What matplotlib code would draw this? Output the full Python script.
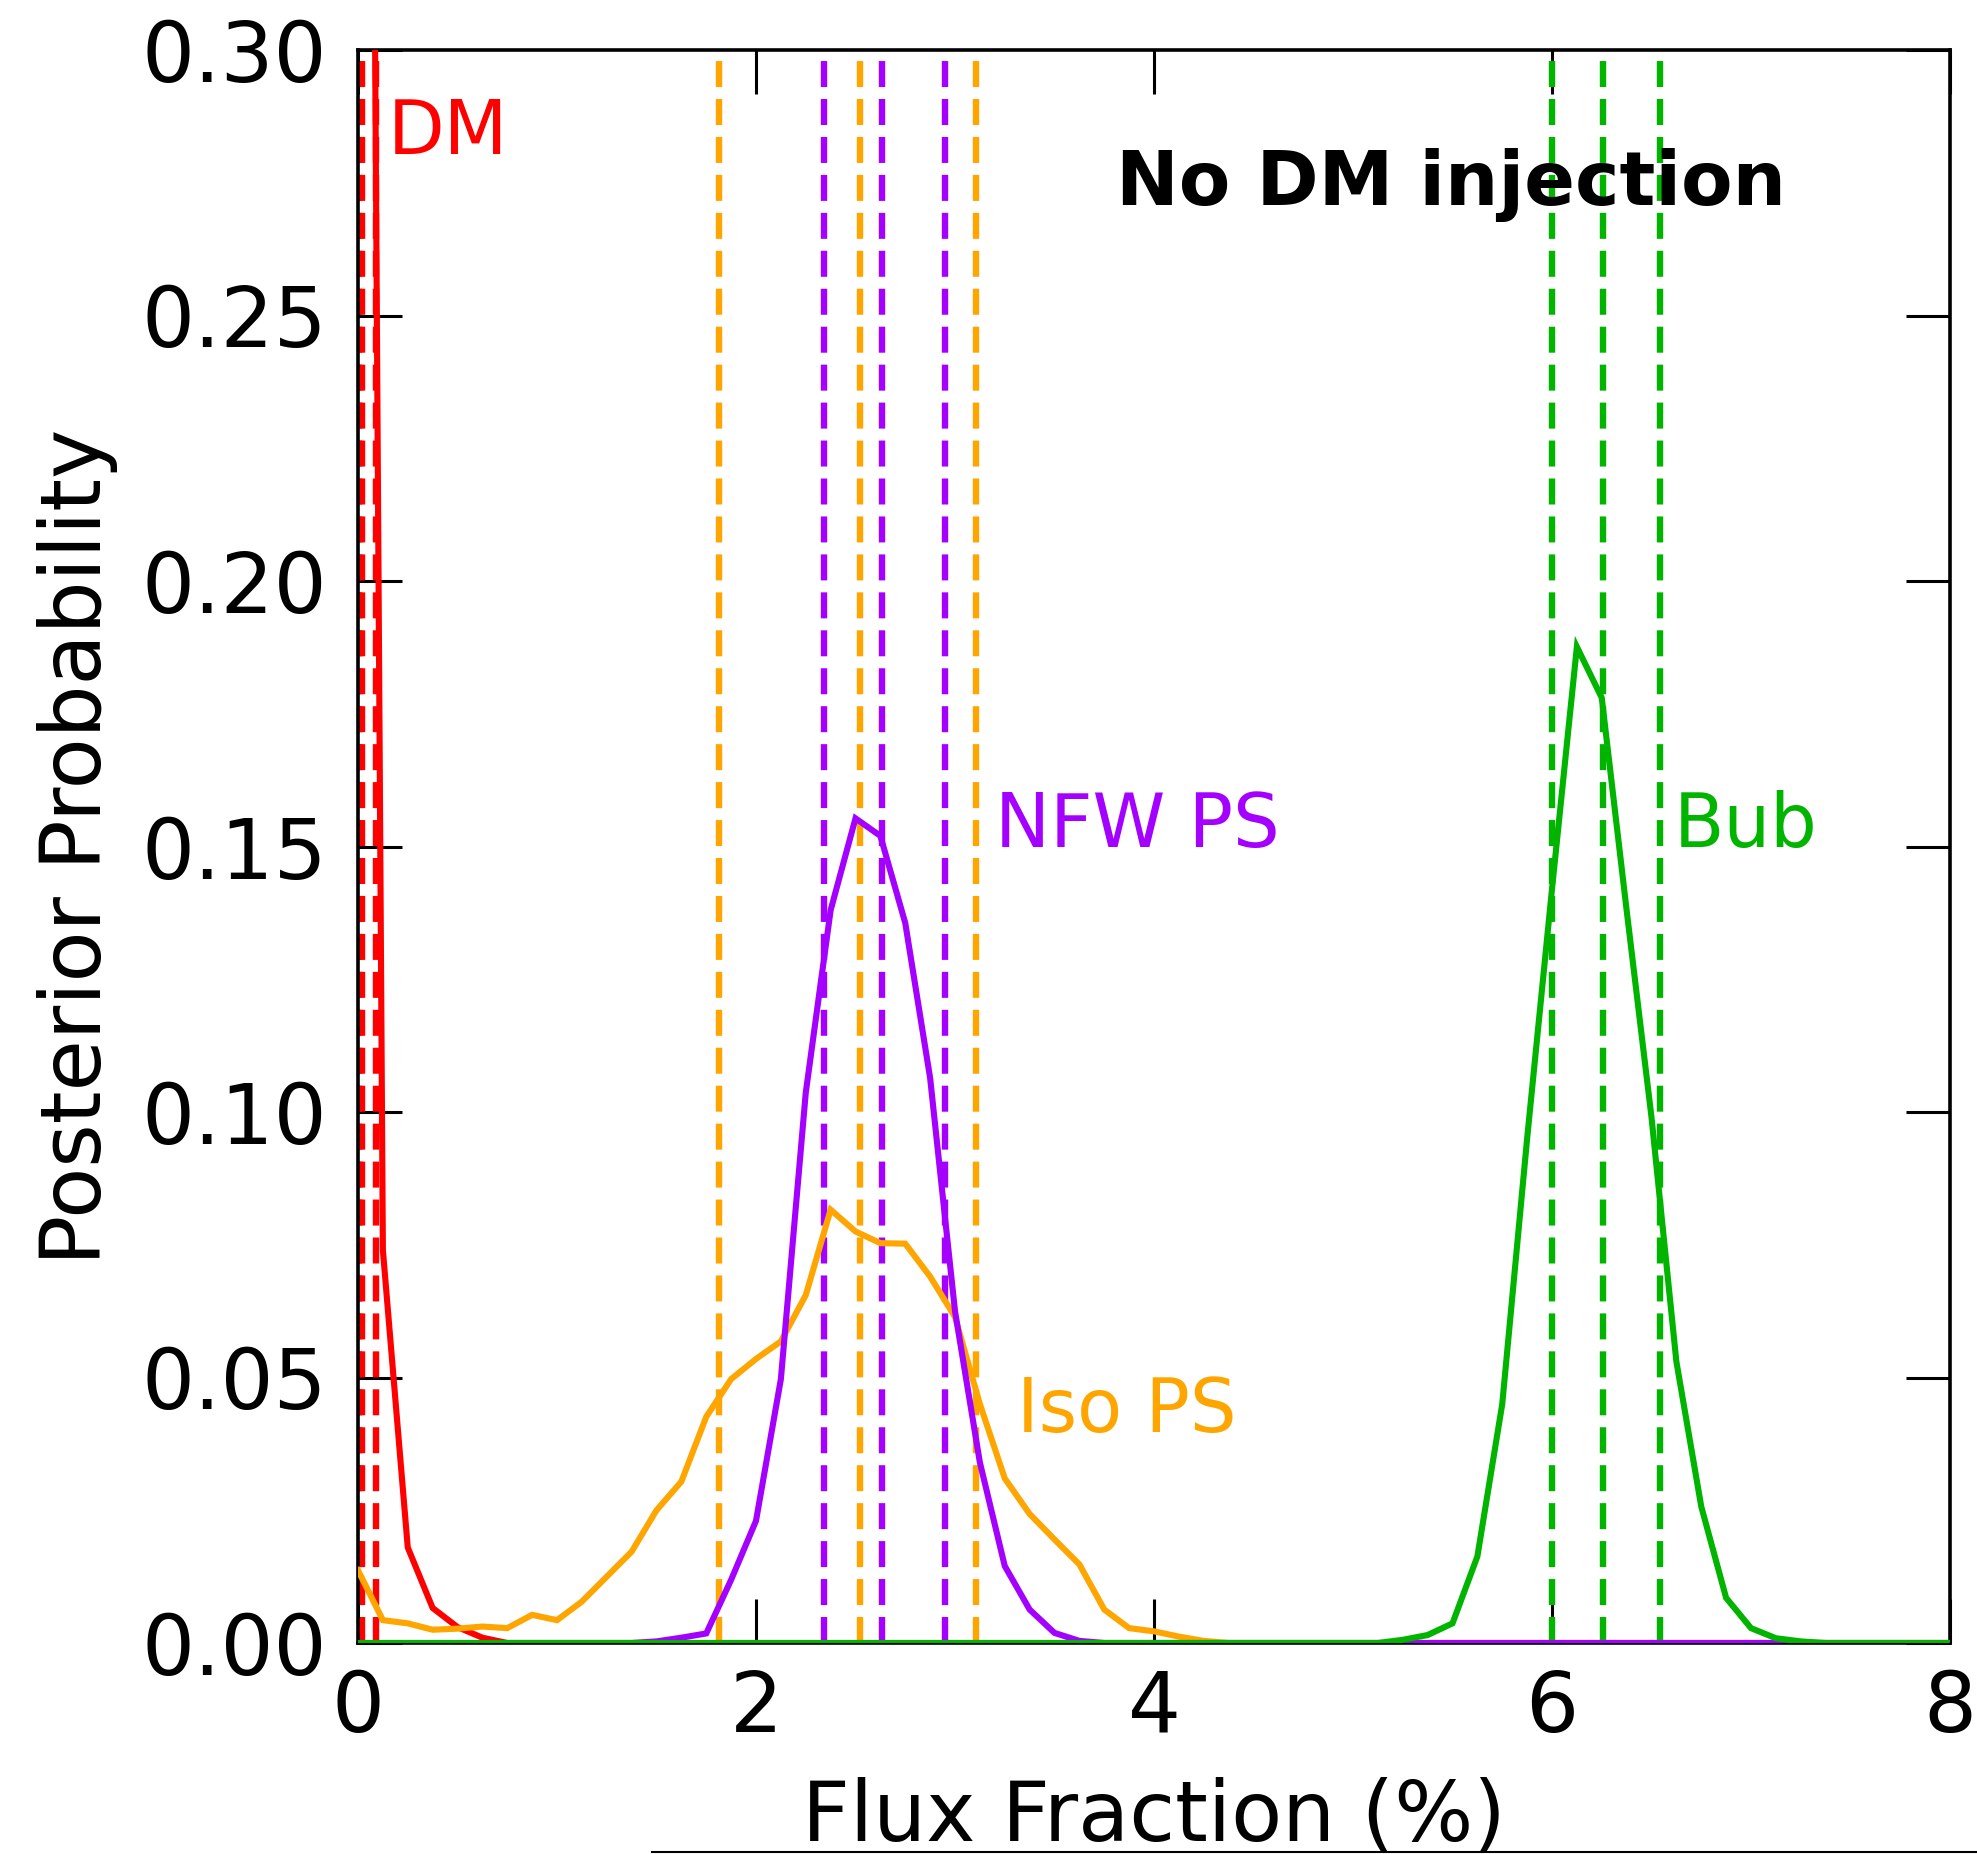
import matplotlib
matplotlib.use("Agg")
import matplotlib.pyplot as plt
from matplotlib.lines import Line2D

# ---------------- data ----------------
dm_x = [0.0, 0.125, 0.25, 0.375, 0.5, 0.625, 0.75, 8.0]
dm_y = [0.80, 0.074, 0.018, 0.0066, 0.003, 0.001, 0.0, 0.0]

iso_x = [0.0, 0.125, 0.25, 0.375, 0.5, 0.625, 0.75, 0.875, 1.0, 1.125, 1.25,
         1.375, 1.5, 1.625, 1.75, 1.875, 2.0, 2.125, 2.25, 2.375, 2.5, 2.625,
         2.75, 2.875, 3.0, 3.125, 3.25, 3.375, 3.5, 3.625, 3.75, 3.875, 4.0,
         4.125, 4.25, 4.375, 8.0]
iso_y = [0.0137, 0.0043, 0.0037, 0.0025, 0.0027, 0.0031, 0.0028, 0.0053,
         0.0043, 0.0078, 0.0125, 0.0172, 0.025, 0.0304, 0.0426, 0.0497,
         0.0535, 0.0568, 0.0655, 0.0816, 0.0775, 0.0753, 0.0752, 0.069,
         0.0614, 0.045, 0.031, 0.0243, 0.0195, 0.0148, 0.0063, 0.0028,
         0.0022, 0.0012, 0.0004, 0.0, 0.0]

nfw_x = [0.0, 1.375, 1.5, 1.625, 1.75, 1.875, 2.0, 2.125, 2.25, 2.375, 2.5,
         2.625, 2.75, 2.875, 3.0, 3.125, 3.25, 3.375, 3.5, 3.625, 3.75, 8.0]
nfw_y = [0.0, 0.0, 0.0003, 0.001, 0.0018, 0.0119, 0.023, 0.0497, 0.1036,
         0.138, 0.1553, 0.152, 0.1356, 0.1064, 0.0625, 0.034, 0.0145,
         0.0063, 0.0019, 0.0004, 0.0, 0.0]

bub_x = [0.0, 5.125, 5.25, 5.375, 5.5, 5.625, 5.75, 5.875, 6.0, 6.125, 6.25,
         6.375, 6.5, 6.625, 6.75, 6.875, 7.0, 7.125, 7.25, 7.375, 8.0]
bub_y = [0.0, 0.0, 0.0006, 0.0015, 0.0037, 0.0163, 0.045, 0.095, 0.142,
         0.1876, 0.178, 0.138, 0.099, 0.053, 0.0257, 0.0085, 0.0028,
         0.0009, 0.0003, 0.0, 0.0]

# 16 / 50 / 84 percentile markers
dm_q = [0.004, 0.018, 0.09]
iso_q = [1.813, 2.525, 3.106]
nfw_q = [2.34, 2.635, 2.952]
bub_q = [5.998, 6.255, 6.543]

labels = ["DM", "Iso PS", "NFW PS", "Bub"]
label_pos = [(0.15, 0.2805), (3.31, 0.0397), (3.20, 0.150), (6.61, 0.150)]
title_text = "No DM injection"
title_pos = (3.81, 0.2708)

x_ticks = [0, 2, 4, 6, 8]
y_ticks = [0.00, 0.05, 0.10, 0.15, 0.20, 0.25, 0.30]

RED = "#ff0000"
ORANGE = "#ffa500"
PURPLE = "#a300ff"
GREEN = "#00b400"

# ---------------- figure ----------------
fig = plt.figure(figsize=(19.77, 18.54), dpi=100)
ax = fig.add_axes([358 / 1977, (1854 - 1643) / 1854, 1592 / 1977, 1593 / 1854])

LW = 4.4
DLW = 4.6
DASH = (4.07, 1.87)

series = [
    (dm_x, dm_y, dm_q, RED),
    (iso_x, iso_y, iso_q, ORANGE),
    (nfw_x, nfw_y, nfw_q, PURPLE),
    (bub_x, bub_y, bub_q, GREEN),
]
for xs, ys, qs, c in series:
    ax.plot(xs, ys, color=c, lw=LW, solid_joinstyle="miter", zorder=3)
    for q in qs:
        ax.axvline(q, color=c, lw=DLW, linestyle=(0, DASH), zorder=2)

label_colors = [RED, ORANGE, PURPLE, GREEN]
for (tx, ty), s, c in zip(label_pos, labels, label_colors):
    ax.text(tx, ty, s, color=c, fontsize=53, ha="left", va="baseline")
ax.text(title_pos[0], title_pos[1], title_text, color="black", fontsize=54,
        fontweight="bold", ha="left", va="baseline")

ax.set_xlim(0, 8)
ax.set_ylim(0, 0.30)
ax.set_xticks(x_ticks)
ax.set_yticks(y_ticks)
ax.set_xticklabels([str(v) for v in x_ticks])
ax.set_yticklabels(["%.2f" % v for v in y_ticks])
ax.tick_params(axis="both", which="major", direction="in", length=32,
               width=2.2, labelsize=60, top=True, right=True)
ax.tick_params(axis="x", pad=18)
ax.tick_params(axis="y", pad=22)
for sp in ax.spines.values():
    sp.set_linewidth(2.6)

ax.set_xlabel("Flux Fraction (%)", fontsize=60, labelpad=20)
ax.set_ylabel("Posterior Probability", fontsize=60, labelpad=17)

# thin rule at the very bottom of the reference image
fig.add_artist(Line2D([652 / 1977, 1.0], [2.5 / 1854, 2.5 / 1854],
                      color="black", lw=1.5))

fig.savefig("out.png", dpi=100)
